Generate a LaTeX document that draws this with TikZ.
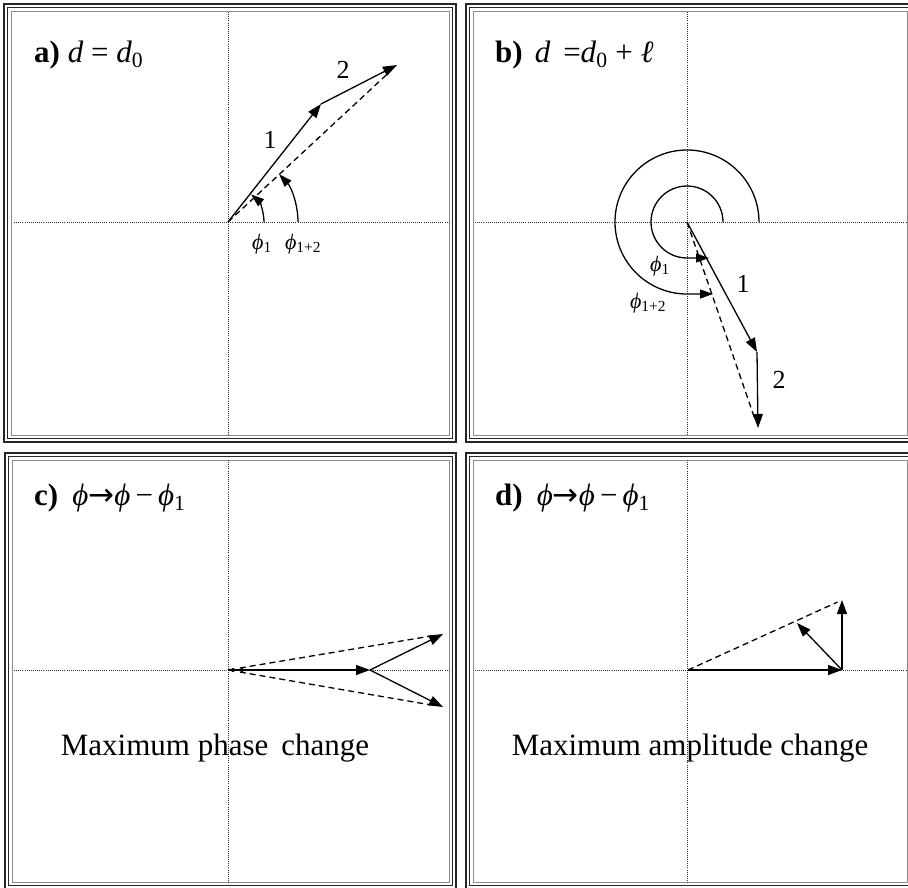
\documentclass[tikz,border=0pt]{standalone}
\usepackage{fontspec}
\setmainfont{Liberation Serif}
\newfontfamily\arrowfont{DejaVu Sans}
\usetikzlibrary{arrows.meta}
\newcommand\panelframe[4]{%
  \draw[frameline] (#1,#2) rectangle (#3,#4);
  \draw[frameline] (#1+3.5,#2+3.5) rectangle (#3-3.5,#4-3.5);
  \draw[frameinner] (#1+7,#2+7) rectangle (#3-7,#4-7);}
\begin{document}
\begin{tikzpicture}[x=1pt,y=-1pt,
  axis/.style={line width=1pt, dash pattern=on 1pt off 1.1pt, black!80},
  vec/.style={line width=1.3pt, -{Triangle[length=14pt,width=10pt]}},
  dvec/.style={line width=1.3pt, dash pattern=on 6pt off 4pt},
  anglearc/.style={line width=1.3pt, -{Triangle[length=13pt,width=9pt]}},
  frameline/.style={line width=1.5pt, black!85},
  frameinner/.style={line width=0.8pt, black!45},
  paneltitle/.style={font=\fontsize{31}{36}\selectfont, anchor=base west, inner sep=0pt},
  captiontext/.style={font=\fontsize{31}{36}\selectfont, anchor=base, inner sep=0pt},
  numlabel/.style={font=\fontsize{26}{30}\selectfont, inner sep=0pt},
  philabel/.style={font=\fontsize{22}{24}\selectfont, inner sep=0pt},
  tinydot/.style={circle, fill, inner sep=0pt, minimum size=4pt}
]
\useasboundingbox (0,0) rectangle (908,887);
\fill[white] (0,0) rectangle (908,887);

% frames
\panelframe{4}{4}{456}{442}
\panelframe{466}{4}{914}{442}
\panelframe{5}{453}{456}{889}
\panelframe{466}{453}{914}{889}

% ---------- panel a ----------
\coordinate (Oa) at (228,222);
\draw[axis] (228,12) -- (228,435);
\draw[axis] (14,222) -- (450,222);
\coordinate (A1) at (321,104);
\coordinate (A2) at (397,65);
\draw[vec] (Oa) -- (A1);
\draw[vec] (A1) -- (A2);
\draw[dvec, shorten >=12pt] (Oa) -- (A2);
\draw[anglearc] (Oa) ++(36,0) arc[start angle=0, end angle=-50, radius=36];
\draw[anglearc] (Oa) ++(70,0) arc[start angle=0, end angle=-43, radius=70];
\node[philabel] (phia1) at (262,244) {\textit{ϕ}\textsubscript{1}};
\node[philabel] (phia12) at (303,244) {\textit{ϕ}\textsubscript{1+2}};
\node[numlabel] (la1) at (270,140) {1};
\node[numlabel] (la2) at (343,70) {2};
\node[paneltitle] (ta) at (34,62) {\textbf{a)} \textit{d} = \textit{d}\textsubscript{0}};

% ---------- panel b ----------
\coordinate (Ob) at (687,222);
\draw[axis] (687,12) -- (687,435);
\draw[axis] (475,222) -- (908,222);
\coordinate (B1) at (757,352);
\coordinate (B2) at (758,428);
\draw[vec] (Ob) -- (B1);
\draw[vec] (B1) -- (B2);
\draw[dvec, shorten >=12pt] (Ob) -- (B2);
\coordinate (Bin) at (709,258);
\coordinate (Bout) at (713,294);
\draw[anglearc] (Ob) ++(36,0) arc[start angle=0, end angle=-270, radius=36] -- (Bin);
\draw[anglearc] (Ob) ++(72,0) arc[start angle=0, end angle=-270, radius=72] -- (Bout);
\node[philabel] (phib1) at (660,266) {\textit{ϕ}\textsubscript{1}};
\node[philabel] (phib12) at (648,303) {\textit{ϕ}\textsubscript{1+2}};
\node[numlabel] (lb1) at (743,284) {1};
\node[numlabel] (lb2) at (779,380) {2};
\node[paneltitle] (tb) at (495,62) {\textbf{b)}\hspace{12pt}\textit{d} \,=\textit{d}\textsubscript{0} + \textit{ℓ}};

% ---------- panel c ----------
\coordinate (Oc) at (228,670);
\draw[axis] (228,460) -- (228,883);
\draw[axis] (14,670) -- (450,670);
\coordinate (C1) at (370,670);
\coordinate (C2) at (443,634);
\coordinate (C3) at (443,707);
\draw[vec] (Oc) -- (C1);
\draw[vec] (C1) -- (C2);
\draw[vec] (C1) -- (C3);
\draw[dvec, shorten <=12pt, shorten >=12pt] (Oc) -- (C2);
\draw[dvec, shorten <=12pt, shorten >=12pt] (Oc) -- (C3);
\node[tinydot] (dc1) at (233,670) {};
\node[tinydot] (dc2) at (242,670) {};
\node[captiontext] (capc) at (215,755) {Maximum phase\, change};
\node[paneltitle] (tc) at (34,505) {\textbf{c)}\hspace{14pt}\textit{ϕ}{\arrowfont →}\textit{ϕ}\,−\,\textit{ϕ}\textsubscript{1}};

% ---------- panel d ----------
\coordinate (Od) at (688,670);
\draw[axis] (687,460) -- (687,883);
\draw[axis] (475,670) -- (908,670);
\coordinate (D1) at (842,670);
\coordinate (D2) at (842,600);
\coordinate (D3) at (797,623);
\draw[vec] (Od) -- (D1);
\draw[vec] (D1) -- (D2);
\draw[vec] (D1) -- (D3);
\draw[dvec, shorten >=5pt] (Od) -- (D2);
\node[captiontext] (capd) at (690,755) {Maximum amplitude change};
\node[paneltitle] (td) at (495,505) {\textbf{d)}\hspace{14pt}\textit{ϕ}{\arrowfont →}\textit{ϕ}\,−\,\textit{ϕ}\textsubscript{1}};
\end{tikzpicture}
\end{document}
